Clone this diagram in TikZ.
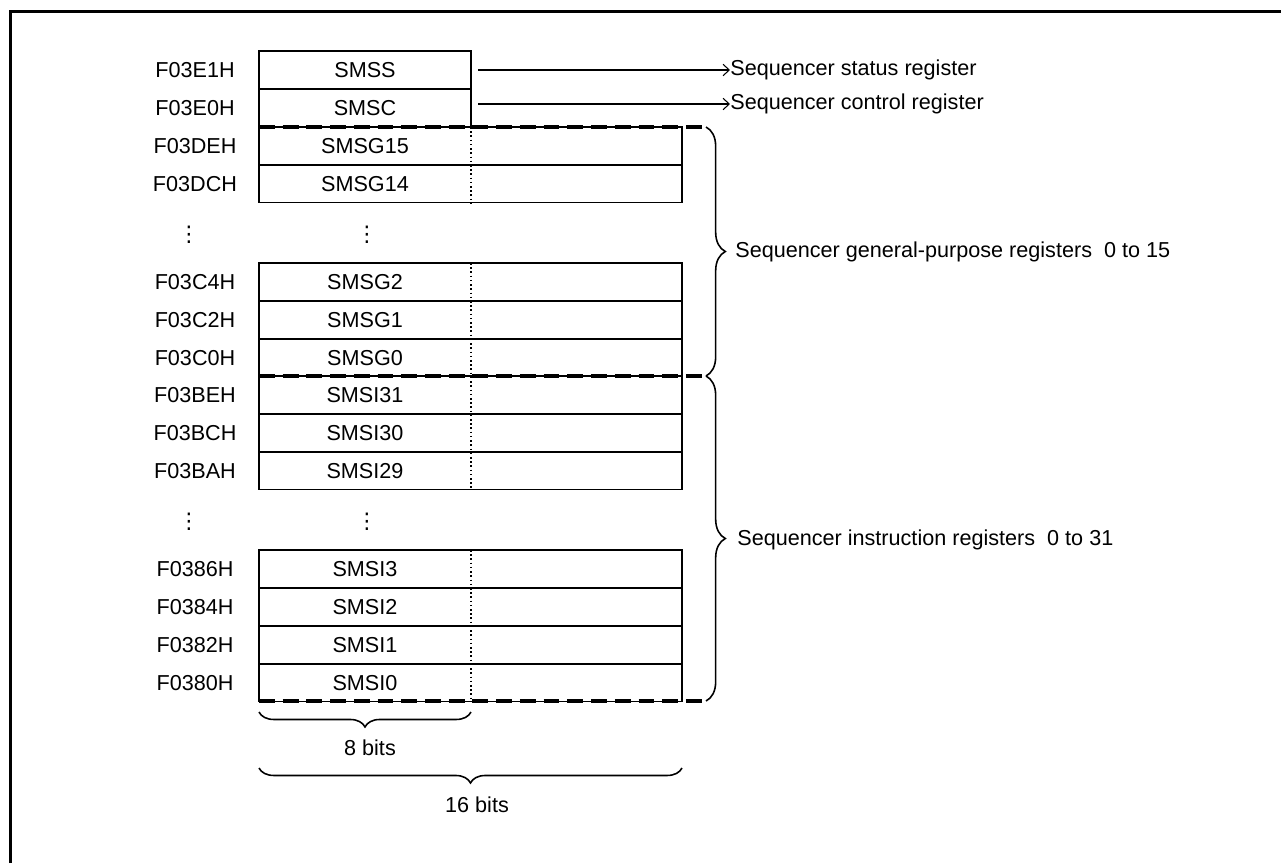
\documentclass[tikz,border=0pt]{standalone}
\usepackage{fontspec}
\setmainfont{Liberation Sans}
\newfontfamily\symfont{DejaVu Sans}
\usetikzlibrary{arrows.meta,decorations.pathreplacing}

\begin{document}
\begin{tikzpicture}[x=0.02cm,y=-0.02cm,>={Straight Barb[length=3.5pt,width=6.5pt]},
  every node/.style={font=\fontsize{12.3}{14}\selectfont,inner sep=0pt},
  box/.style={line width=0.6pt},
  sep/.style={line width=1.9pt,dash pattern=on 9pt off 4.5pt},
  grp/.style={line width=0.9pt,decorate,decoration={brace,amplitude=11pt}},
  bits/.style={line width=0.9pt,decorate,decoration={brace,amplitude=8.5pt,mirror}}]
\def\xl{259}\def\xm{471}\def\xr{682}\def\h{37.7}
\useasboundingbox (0,0) rectangle (1281,863);
\draw[line width=1.7pt] (10.5,863) -- (10.5,11.5) -- (1281,11.5);
% register rows
\foreach \y/\ad/\nm/\w in {51/F03E1H/SMSS/\xm, 89/F03E0H/SMSC/\xm,
  127/F03DEH/SMSG15/\xr, 165/F03DCH/SMSG14/\xr,
  263/F03C4H/SMSG2/\xr, 301/F03C2H/SMSG1/\xr, 339/F03C0H/SMSG0/\xr,
  376/F03BEH/SMSI31/\xr, 414/F03BCH/SMSI30/\xr, 452/F03BAH/SMSI29/\xr,
  550/F0386H/SMSI3/\xr, 588/F0384H/SMSI2/\xr, 626/F0382H/SMSI1/\xr, 664/F0380H/SMSI0/\xr}{
  \draw[box] (\xl,\y) rectangle (\w,\y+\h);
  \node (a-\nm) at (195,\y+\h/2) {\ad};
  \node (n-\nm) at (365,\y+\h/2) {\nm};
}
\node (va1) at (189,235) {\symfont ⋮}; \node (vn1) at (367,235) {\symfont ⋮};
\node (va2) at (189,522) {\symfont ⋮}; \node (vn2) at (367,522) {\symfont ⋮};
% byte divider
\foreach \a/\b in {127/203, 263/489, 550/701}
  \draw[line width=0.9pt,dash pattern=on 0.9pt off 1.5pt] (\xm,\a) -- (\xm,\b);
% group borders
\foreach \y in {127,376,701} \draw[sep] (\xl,\y) -- (706,\y);
\draw[grp] (706,127) -- (706,376);
\draw[grp] (706,376) -- (706,701);
\node[anchor=west] (l-g) at (735,252) {Sequencer general-purpose registers\ \ 0 to 15};
\node[anchor=west] (l-i) at (737,540) {Sequencer instruction registers\ \ 0 to 31};
% control registers
\node[anchor=west] (l-ss) at (730,70) {Sequencer status register};
\node[anchor=west] (l-sc) at (730,104) {Sequencer control register};
\coordinate (o-ss) at (478,70); \coordinate (o-sc) at (478,104);
\draw[->,line width=0.6pt] (o-ss) -- (l-ss.west);
\draw[->,line width=0.6pt] (o-sc) -- (l-sc.west);
% widths
\draw[bits] (\xl,712) -- (\xm,712);
\draw[bits] (\xl,768) -- (\xr,768);
\node (b8) at (370,748) {8 bits};
\node (b16) at (477,805) {16 bits};
\end{tikzpicture}
\end{document}
